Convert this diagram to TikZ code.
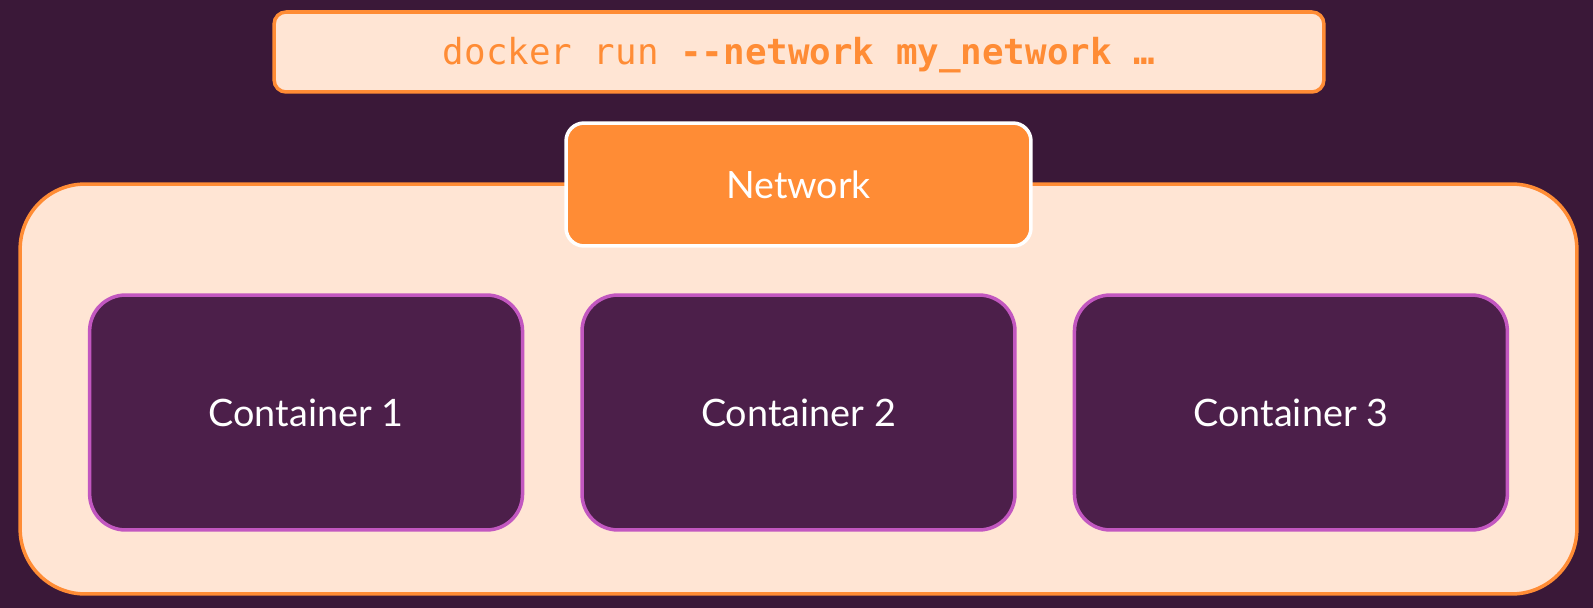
\documentclass[tikz,border=0pt]{standalone}
\usepackage{fontspec}
\setmainfont{Lato}
\setmonofont{DejaVu Sans Mono}
\usetikzlibrary{positioning}

\definecolor{bgpurple}{HTML}{3A1838}
\definecolor{peach}{HTML}{FFE5D4}
\definecolor{netorange}{HTML}{FF8C35}
\definecolor{boxpurple}{HTML}{4C1F4A}
\definecolor{orchid}{HTML}{C257C0}

\tikzset{
    cmdbox/.style={draw=netorange, fill=peach, line width=2pt, rounded corners=0.24cm,
        minimum width=21cm, minimum height=1.6cm, inner sep=0pt},
    hostbox/.style={draw=netorange, fill=peach, line width=2pt, rounded corners=1.3cm,
        minimum width=31.14cm, minimum height=8.2cm, inner sep=0pt},
    netbox/.style={draw=white, fill=netorange, line width=2pt, rounded corners=0.36cm,
        minimum width=9.3cm, minimum height=2.46cm, inner sep=0pt,
        text=white, font=\fontsize{21.4}{24}\selectfont},
    ctrbox/.style={draw=orchid, fill=boxpurple, line width=2pt, rounded corners=0.72cm,
        minimum width=8.66cm, minimum height=4.7cm, inner sep=0pt,
        text=white, font=\fontsize{21.5}{24}\selectfont}
}

\begin{document}
\begin{tikzpicture}[x=0.02cm,y=-0.02cm]
    % Background
    \fill[bgpurple] (0,0) rectangle (1593,608);
    \useasboundingbox (0,0) rectangle (1593,608);

    % Command line
    \node[cmdbox] (cmd) at (799,52) {};
    \node[text=netorange, font=\fontsize{20.4}{23}\selectfont\ttfamily] (cmdtext) at (799,55)
        {docker run \textbf{--network my\_network …}};

    % Host with the network
    \node[hostbox] (host) at (798.5,389) {};
    \node[netbox] (net) at (798.5,184.5) {Network};

    % Containers
    \node[ctrbox] (ctr2) at (798.5,412.5) {Container 2};
    \node[ctrbox, left=1.12cm of ctr2] (ctr1) {Container 1};
    \node[ctrbox, right=1.12cm of ctr2] (ctr3) {Container 3};
\end{tikzpicture}
\end{document}
